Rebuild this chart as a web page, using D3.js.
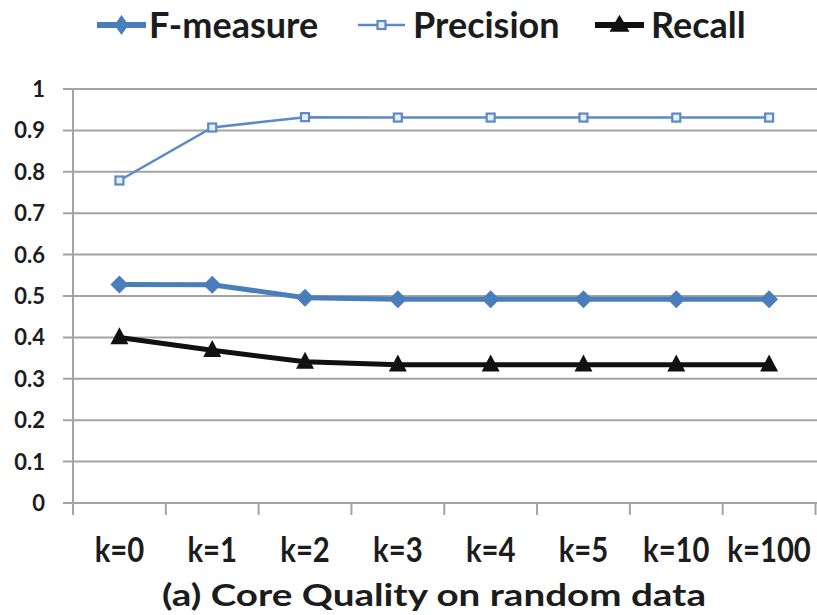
<!DOCTYPE html>
<html>
<head>
<meta charset="utf-8">
<script src="https://cdn.jsdelivr.net/npm/d3@7"></script>
<style>
  html, body { margin: 0; padding: 0; background: #fff; }
  svg { display: block; }
  text { font-family: Lato, "Open Sans", "Liberation Sans", sans-serif; font-weight: 700; fill: #1c1c1c; }
</style>
</head>
<body>
<svg id="chart" width="817" height="615"></svg>
<script>
// Core quality (F-measure / Precision / Recall) for increasing k
const categories = ["k=0", "k=1", "k=2", "k=3", "k=4", "k=5", "k=10", "k=100"];
const fMeasure  = [0.528, 0.527, 0.496, 0.492, 0.492, 0.492, 0.492, 0.492];
const precision = [0.779, 0.907, 0.932, 0.931, 0.931, 0.931, 0.931, 0.931];
const recall    = [0.400, 0.369, 0.341, 0.334, 0.334, 0.334, 0.334, 0.334];
const yTicks = [0, 0.1, 0.2, 0.3, 0.4, 0.5, 0.6, 0.7, 0.8, 0.9, 1];
const yTickLabels = ["0", "0.1", "0.2", "0.3", "0.4", "0.5", "0.6", "0.7", "0.8", "0.9", "1"];
const seriesNames = ["F-measure", "Precision", "Recall"];
const title = "(a) Core Quality on random data";

const svg = d3.select("#chart");
const W = 817, H = 615;

const x = d3.scaleBand().domain(categories).range([73, 815.5]).padding(0);
const y = d3.scaleLinear().domain([0, 1]).range([503, 89]);
const cx = c => x(c) + x.bandwidth() / 2;

const BLUE = "#4a7ebb";
const LIGHTBLUE = "#5b8ac6";
const GRID = "#a3a3a3";

// horizontal gridlines (extend through the tick stub on the left)
svg.append("g").selectAll("line").data(yTicks).join("line")
  .attr("x1", 63).attr("x2", W)
  .attr("y1", d => y(d)).attr("y2", d => y(d))
  .attr("stroke", GRID).attr("stroke-width", 2);

// vertical axis line
svg.append("line")
  .attr("x1", x.range()[0]).attr("x2", x.range()[0])
  .attr("y1", y(1)).attr("y2", y(0) + 12)
  .attr("stroke", GRID).attr("stroke-width", 2);

// category boundary ticks
const bounds = categories.map(c => x(c)).concat([x.range()[1]]);
svg.append("g").selectAll("line").data(bounds).join("line")
  .attr("x1", d => d).attr("x2", d => d)
  .attr("y1", y(0)).attr("y2", y(0) + 12)
  .attr("stroke", GRID).attr("stroke-width", 2);

// y tick labels
svg.append("g").selectAll("text").data(yTicks).join("text")
  .attr("x", 45).attr("y", d => y(d)).attr("dy", "0.36em")
  .attr("text-anchor", "end").attr("font-size", 22)
  .text((d, i) => yTickLabels[i]);

// x category labels (slightly condensed)
const xl = svg.append("g").selectAll("text").data(categories).join("text")
  .attr("x", d => cx(d)).attr("y", 562)
  .attr("text-anchor", "middle").attr("font-size", 34)
  .text(d => d);
xl.each(function () {
  const len = this.getComputedTextLength();
  d3.select(this).attr("textLength", len * 0.86).attr("lengthAdjust", "spacingAndGlyphs");
});

// caption
const t = svg.append("text")
  .attr("x", 434).attr("y", 606)
  .attr("text-anchor", "middle").attr("font-size", 31)
  .text(title);
t.attr("textLength", 544).attr("lengthAdjust", "spacingAndGlyphs");

// marker shapes
const diamondPath = (w, h) => `M0,${-h}L${w},0L0,${h}L${-w},0Z`;
const trianglePath = (w, h) => `M0,${-h * 0.6}L${w},${h * 0.4}L${-w},${h * 0.4}Z`;

const lineGen = vals => d3.line()
  .x((d, i) => cx(categories[i]))
  .y(d => y(d))(vals);

// Precision
svg.append("path").attr("d", lineGen(precision))
  .attr("fill", "none").attr("stroke", LIGHTBLUE).attr("stroke-width", 2.5);
svg.append("g").selectAll("rect").data(precision).join("rect")
  .attr("x", (d, i) => cx(categories[i]) - 4).attr("y", d => y(d) - 4)
  .attr("width", 8).attr("height", 8)
  .attr("fill", "#e8eef7").attr("stroke", LIGHTBLUE).attr("stroke-width", 2.2);

// F-measure
svg.append("path").attr("d", lineGen(fMeasure))
  .attr("fill", "none").attr("stroke", BLUE).attr("stroke-width", 5);
svg.append("g").selectAll("path").data(fMeasure).join("path")
  .attr("transform", (d, i) => `translate(${cx(categories[i])},${y(d)})`)
  .attr("d", diamondPath(9, 9)).attr("fill", BLUE);

// Recall
svg.append("path").attr("d", lineGen(recall))
  .attr("fill", "none").attr("stroke", "#111").attr("stroke-width", 5);
svg.append("g").selectAll("path").data(recall).join("path")
  .attr("transform", (d, i) => `translate(${cx(categories[i])},${y(d)})`)
  .attr("d", trianglePath(9, 17)).attr("fill", "#111");

// legend
const legend = [
  { name: seriesNames[0], x1: 97, x2: 146, text: 149, color: BLUE, width: 6, marker: "diamond" },
  { name: seriesNames[1], x1: 358, x2: 405, text: 413, color: LIGHTBLUE, width: 2.5, marker: "square" },
  { name: seriesNames[2], x1: 595, x2: 644, text: 651, color: "#111", width: 6, marker: "triangle" }
];
const lg = svg.append("g").selectAll("g").data(legend).join("g");
lg.append("line")
  .attr("x1", d => d.x1).attr("x2", d => d.x2).attr("y1", 25).attr("y2", 25)
  .attr("stroke", d => d.color).attr("stroke-width", d => d.width);
lg.each(function (d) {
  const g = d3.select(this);
  const mx = (d.x1 + d.x2) / 2;
  if (d.marker === "diamond") {
    g.append("path").attr("transform", `translate(${mx},25)`)
      .attr("d", diamondPath(7, 10)).attr("fill", d.color);
  } else if (d.marker === "square") {
    g.append("rect").attr("x", mx - 4).attr("y", 21).attr("width", 8).attr("height", 8)
      .attr("fill", "#e8eef7").attr("stroke", d.color).attr("stroke-width", 2.2);
  } else {
    g.append("path").attr("transform", `translate(${mx},25)`)
      .attr("d", trianglePath(10, 17)).attr("fill", d.color);
  }
});
lg.append("text")
  .attr("x", d => d.text).attr("y", 38)
  .attr("font-size", 36)
  .text(d => d.name);
</script>
</body>
</html>
